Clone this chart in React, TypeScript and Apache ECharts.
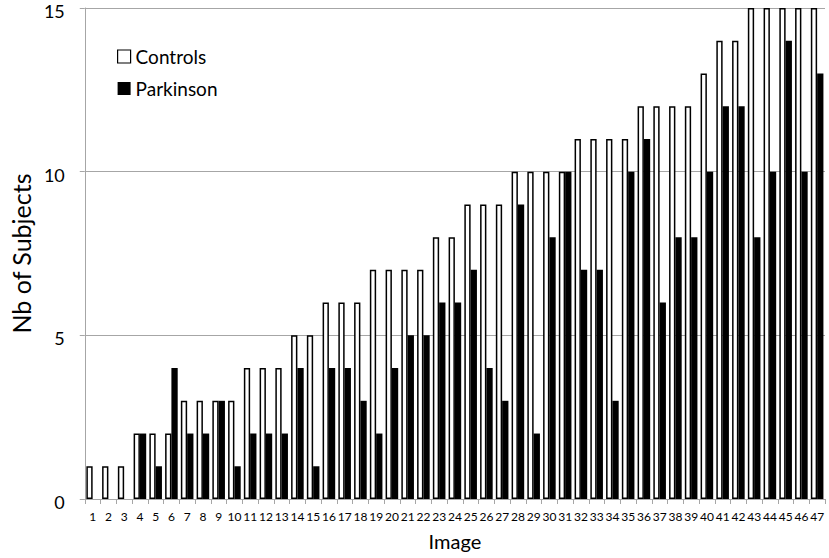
import React, { useEffect, useRef } from "react";
import * as echarts from "echarts";

const categories = Array.from({ length: 47 }, (_, i) => String(i + 1));
const controls = [1, 1, 1, 2, 2, 2, 3, 3, 3, 3, 4, 4, 4, 5, 5, 6, 6, 6, 7, 7, 7, 7, 8, 8, 9, 9, 9, 10, 10, 10, 10, 11, 11, 11, 11, 12, 12, 12, 12, 13, 14, 14, 15, 15, 15, 15, 15];
const parkinson = [0, 0, 0, 2, 1, 4, 2, 2, 3, 1, 2, 2, 2, 4, 1, 4, 4, 3, 2, 4, 5, 5, 6, 6, 7, 4, 3, 9, 2, 8, 10, 7, 7, 3, 10, 11, 6, 8, 8, 10, 12, 12, 8, 10, 14, 10, 13];

const FONT = "Lato";

export default function App() {
  const ref = useRef<HTMLDivElement>(null);
  useEffect(() => {
    document.body.style.margin = "0";
    const chart = echarts.init(ref.current!, null, { renderer: "svg" });
    chart.setOption({
      animation: false,
      backgroundColor: "#ffffff",
      textStyle: { fontFamily: FONT, color: "#000" },
      grid: { left: 72, right: 4, top: 8, bottom: 59, containLabel: false },
      legend: {
        orient: "vertical",
        left: 112,
        top: 42,
        icon: "rect",
        itemWidth: 13,
        itemHeight: 13,
        itemGap: 13,
        textStyle: { fontFamily: FONT, fontSize: 19, color: "#000" },
        data: [
          { name: "Controls", itemStyle: { color: "#fff", borderColor: "#000", borderWidth: 1.2 } },
          { name: "Parkinson", itemStyle: { color: "#000" } },
        ],
      },
      xAxis: {
        type: "category",
        data: categories,
        name: "Image",
        nameLocation: "middle",
        nameGap: 32,
        nameTextStyle: { fontFamily: FONT, fontSize: 20, color: "#000" },
        axisLine: { lineStyle: { color: "#a6a6a6", width: 1 } },
        axisTick: { show: true, length: 5, lineStyle: { color: "#a6a6a6" } },
        axisLabel: { interval: 0, fontSize: 12, color: "#000", margin: 11, fontFamily: FONT },
      },
      yAxis: {
        type: "value",
        min: 0,
        max: 15,
        interval: 5,
        name: "Nb of Subjects",
        nameLocation: "middle",
        nameGap: 48,
        nameTextStyle: { fontFamily: FONT, fontSize: 25, color: "#000" },
        axisLine: { show: true, lineStyle: { color: "#a6a6a6", width: 1 } },
        axisTick: { show: true, length: 5, lineStyle: { color: "#a6a6a6" } },
        axisLabel: {
          fontSize: 18,
          color: "#000",
          margin: 20,
          fontFamily: FONT,
          verticalAlign: "top",
          lineHeight: 6,
        },
        splitLine: { lineStyle: { color: "#a6a6a6", width: 1 } },
      },
      series: [
        {
          name: "Controls",
          type: "bar",
          data: controls,
          barGap: "0%",
          barCategoryGap: "20%",
          itemStyle: { color: "#fff", borderColor: "#000", borderWidth: 1.5 },
        },
        {
          name: "Parkinson",
          type: "bar",
          data: parkinson,
          barGap: "0%",
          barCategoryGap: "20%",
          itemStyle: { color: "#000", borderColor: "#000", borderWidth: 0 },
        },
      ],
    });
    return () => chart.dispose();
  }, []);
  return <div ref={ref} style={{ width: 829, height: 558 }} />;
}
